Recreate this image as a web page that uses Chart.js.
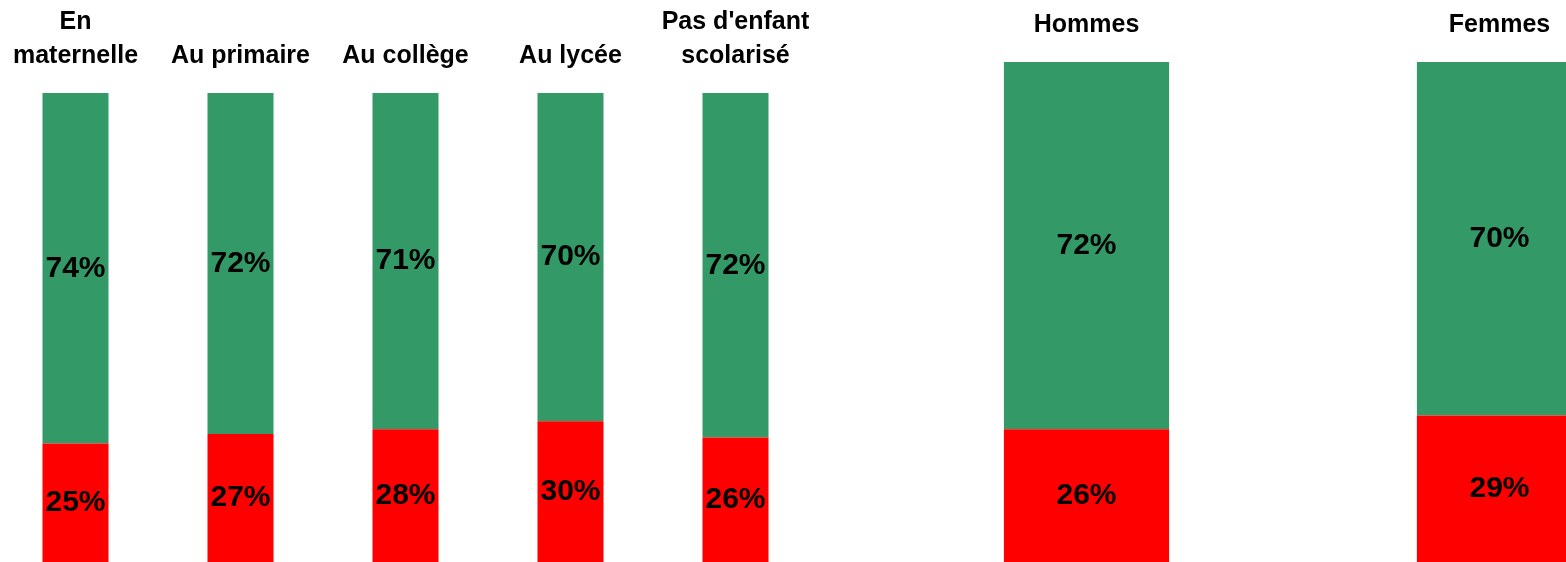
<!DOCTYPE html>
<html>
<head>
    <meta charset="utf-8">
    <title>Scolarisation</title>
    <style>
        html, body { margin: 0; padding: 0; background: #fff; overflow: hidden; }
        body { width: 1566px; height: 562px; position: relative; }
        canvas { position: absolute; top: 0; }
        #chartLeft { left: -7px; }
        #chartRight { left: 880px; }
    </style>
</head>
<body>
    <canvas id="chartLeft" width="825" height="562"></canvas>
    <canvas id="chartRight" width="826" height="562"></canvas>

    <script src="https://cdn.jsdelivr.net/npm/chart.js"></script>
    <script>
        // Data
        const leftLabels = [['En', 'maternelle'], 'Au primaire', 'Au collège', 'Au lycée', ["Pas d'enfant", 'scolarisé']];
        const leftGreen = [74, 72, 71, 70, 72];
        const leftRed = [25, 27, 28, 30, 26];

        const rightLabels = ['Hommes', 'Femmes'];
        const rightGreen = [72, 70];
        const rightRed = [26, 29];

        const GREEN = '#339966';
        const RED = '#ff0000';
        const FONT = '"Liberation Sans", Arial, Helvetica, sans-serif';

        // 100% stacked: each bar is scaled to its own total
        function share(values, other) {
            return values.map((v, i) => v / (v + other[i]) * 100);
        }

        // writes the percentages in the middle of each segment
        const valueLabels = {
            id: 'valueLabels',
            afterDatasetsDraw(chart) {
                const ctx = chart.ctx;
                ctx.save();
                ctx.font = 'bold 30px ' + FONT;
                ctx.fillStyle = '#000';
                ctx.textAlign = 'center';
                ctx.textBaseline = 'middle';
                chart.data.datasets.forEach((ds, di) => {
                    chart.getDatasetMeta(di).data.forEach((bar, i) => {
                        const p = bar.getCenterPoint();
                        ctx.fillText(ds.raw[i] + '%', p.x, p.y);
                    });
                });
                ctx.restore();
            }
        };

        function makeChart(id, labels, red, green, axisHeight) {
            return new Chart(document.getElementById(id), {
                type: 'bar',
                data: {
                    labels: labels,
                    datasets: [
                        { data: share(red, green), raw: red, backgroundColor: RED },
                        { data: share(green, red), raw: green, backgroundColor: GREEN }
                    ]
                },
                options: {
                    responsive: false,
                    animation: false,
                    layout: { padding: 0 },
                    datasets: {
                        bar: { categoryPercentage: 1, barPercentage: 0.4, borderWidth: 0 }
                    },
                    plugins: { legend: { display: false }, tooltip: { enabled: false } },
                    scales: {
                        x: {
                            position: 'top',
                            stacked: true,
                            grid: { display: false, drawTicks: false },
                            border: { display: false },
                            ticks: {
                                color: '#000',
                                padding: 20,
                                maxRotation: 0,
                                autoSkip: false,
                                font: { family: FONT, size: 25, weight: 'bold', lineHeight: 1.36 }
                            },
                            // fixed axis band, and no side padding for wide labels
                            afterFit: s => {
                                s.height = axisHeight;
                                s.paddingLeft = 0;
                                s.paddingRight = 0;
                            }
                        },
                        y: {
                            display: false,
                            stacked: true,
                            min: 0,
                            max: 100
                        }
                    }
                },
                plugins: [valueLabels]
            });
        }

        makeChart('chartLeft', leftLabels, leftRed, leftGreen, 93);
        makeChart('chartRight', rightLabels, rightRed, rightGreen, 62);
    </script>
</body>
</html>
